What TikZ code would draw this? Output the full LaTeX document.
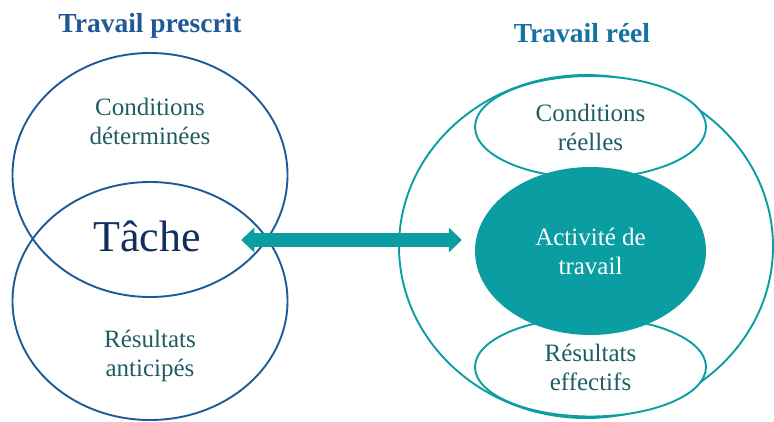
\documentclass[tikz,border=0pt]{standalone}
\usepackage{fontspec}
\setmainfont{Liberation Serif}
\usetikzlibrary{arrows.meta,shapes.geometric,positioning}
\definecolor{presBlue}{HTML}{1F5A98}
\definecolor{presNavy}{HTML}{112E5E}
\definecolor{reelBlue}{HTML}{1672A0}
\definecolor{reelTeal}{HTML}{0A9EA3}
\definecolor{labelTeal}{HTML}{1E5E62}

\begin{document}
\begin{tikzpicture}[x=1pt,y=-1pt,>=Latex,line cap=round,line join=round]
\useasboundingbox[fill=white] (0,0) rectangle (774,421);
\tikzset{title/.style={font=\fontsize{27.5}{31}\selectfont\bfseries},lbl/.style={align=center,text=labelTeal,font=\fontsize{25}{29}\selectfont},presring/.style={ellipse,draw=presBlue,line width=1.9pt,inner sep=0pt},reelring/.style={ellipse,draw=reelTeal,line width=1.9pt,inner sep=0pt},biarrow/.style={draw=reelTeal,line width=14pt,line cap=butt,{Triangle[width=24pt,length=13pt]}-{Triangle[width=24pt,length=13pt]}}}
% travail prescrit
\node[title,text=presBlue] (prescrit) at (150,26) {Travail prescrit};
\node[presring,minimum width=275pt,minimum height=244pt] (condDet) at (150,175) {};
\node[presring,minimum width=275pt,minimum height=238pt] (resAnt) at (150,301) {};
\node[lbl] (condDetTxt) at (150,121) {Conditions\\déterminées};
\node[lbl] (resAntTxt) at (150,356) {Résultats\\anticipés};
\node[text=presNavy,font=\fontsize{44}{48}\selectfont] (tache) at (147,236) {Tâche};
% travail reel
\node[title,text=reelBlue] (reel) at (582,33) {Travail réel};
\node[reelring,minimum width=374pt,minimum height=343pt] (reelRing) at (586,246.5) {};
\node[reelring,lbl,fill=white,minimum width=231pt,minimum height=102pt] (condReel) at (590.5,127) {Conditions\\réelles};
\node[reelring,lbl,fill=white,minimum width=231pt,minimum height=99pt] (resEff) at (590.5,367) {Résultats\\effectifs};
\node[ellipse,fill=reelTeal,text=white,align=center,font=\fontsize{25}{29}\selectfont,inner sep=0pt,minimum width=231pt,minimum height=168pt] (activite) at (590.5,251) {Activité de\\travail};
\draw[biarrow,shorten <=37pt,shorten >=13pt] ([yshift=-4pt]tache.east) -- ([yshift=-4pt]tache.east -| activite.west);
\end{tikzpicture}
\end{document}
